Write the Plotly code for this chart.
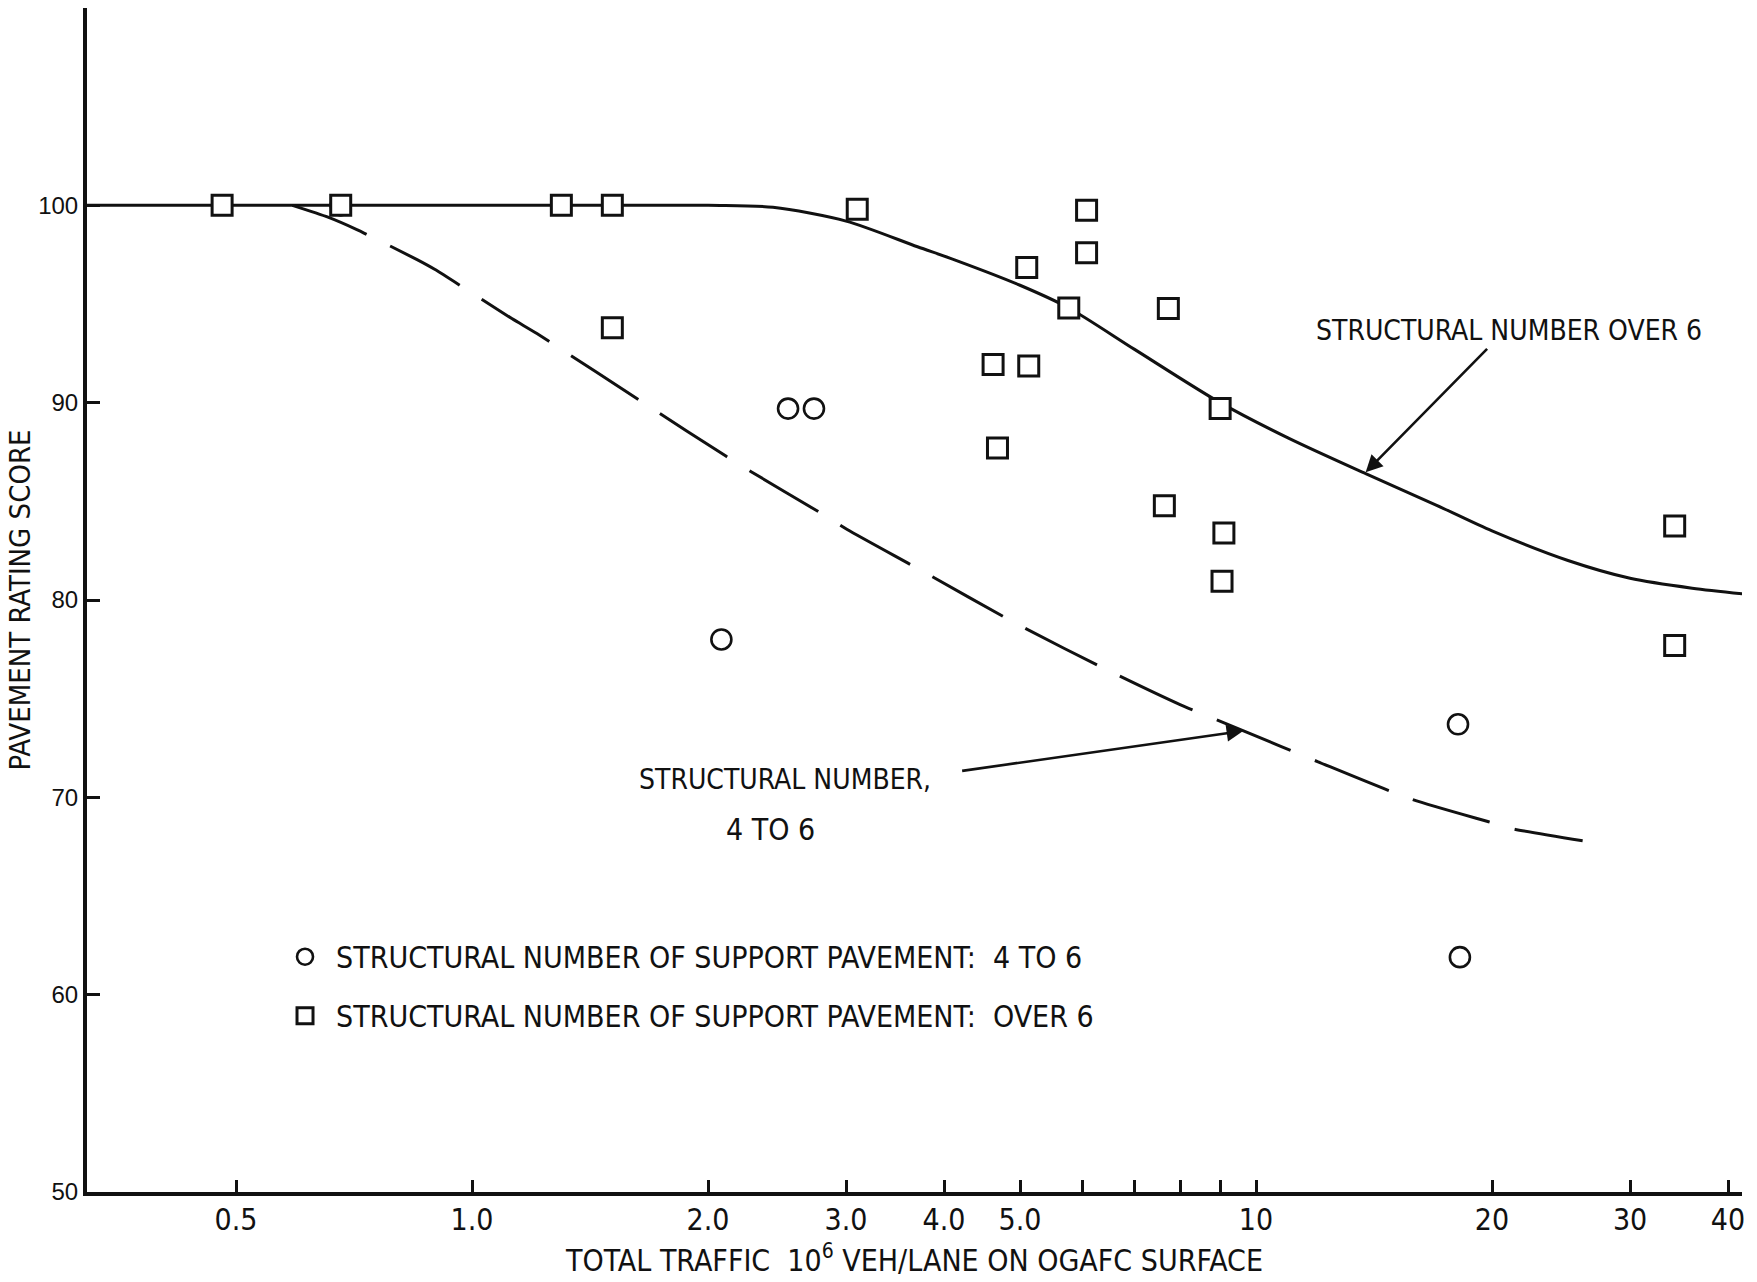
import math
import plotly.graph_objects as go

# ---------------- data ----------------
# squares: structural number of support pavement over 6
sq_x = [0.48, 0.68, 1.30, 1.51, 1.51, 3.10, 6.08, 6.08, 5.10, 5.77,
        7.73, 4.62, 5.13, 9.00, 4.68, 7.64, 9.10, 9.05, 34.2, 34.2]
sq_y = [100, 100, 100, 100, 93.8, 99.8, 99.75, 97.6, 96.85, 94.8,
        94.77, 91.93, 91.86, 89.7, 87.7, 84.77, 83.4, 80.95, 83.75, 77.7]

# circles: structural number of support pavement 4 to 6
ci_x = [0.68, 2.53, 2.73, 2.08, 18.1, 18.2]
ci_y = [100, 89.7, 89.7, 78.0, 73.7, 61.9]

# solid curve: structural number over 6
over6_x = [0.30, 2.0, 2.42, 3.0, 3.7, 4.15, 5.0, 5.77, 7.0, 9.0,
           11.0, 13.8, 17.0, 20.0, 25.0, 30.0, 36.0, 42.1]
over6_y = [100, 100, 99.9, 99.2, 97.9, 97.2, 95.95, 94.8, 92.7, 90.0,
           88.2, 86.4, 84.8, 83.5, 82.0, 81.1, 80.6, 80.3]

# dashed curve: structural number 4 to 6
sn46_x = [0.59, 0.655, 0.713, 0.851, 0.896, 1.124, 1.21, 1.69, 2.11, 2.27,
          2.80, 3.01, 3.70, 5.0, 6.5, 8.0, 9.64, 12.0, 15.8, 19.8, 21.3, 26.1]
sn46_y = [100, 99.4, 98.77, 97.25, 96.76, 94.26, 93.5, 89.75, 87.28, 86.5,
          84.35, 83.57, 81.6, 78.7, 76.4, 74.7, 73.37, 71.8, 69.9, 68.76, 68.4, 67.8]

x_ticks = [0.5, 1, 2, 3, 4, 5, 6, 7, 8, 9, 10, 20, 30, 40]
x_tick_text = ["0.5", "1.0", "2.0", "3.0", "4.0", "5.0", "", "", "", "", "10", "20", "30", "40"]
y_ticks = [50, 60, 70, 80, 90, 100]

NARROW = "Liberation Sans Narrow, Arial Narrow, DejaVu Sans Condensed, sans-serif"
SANS = "Liberation Sans, Arial, sans-serif"
INK = "#111111"

fig = go.Figure()

fig.add_trace(go.Scatter(
    x=over6_x, y=over6_y, mode="lines", showlegend=False, hoverinfo="skip",
    line=dict(color=INK, width=3, shape="spline", smoothing=0.8)))
fig.add_trace(go.Scatter(
    x=sn46_x, y=sn46_y, mode="lines", showlegend=False, hoverinfo="skip",
    line=dict(color=INK, width=3, dash="80px,26px", shape="spline", smoothing=0.6)))

fig.add_trace(go.Scatter(
    x=ci_x, y=ci_y, mode="markers", legendgroup="a",
    name="STRUCTURAL NUMBER OF SUPPORT PAVEMENT:\u00a0 4 TO 6",
    marker=dict(symbol="circle", size=20, color="white", line=dict(color=INK, width=2.6))))
fig.add_trace(go.Scatter(
    x=sq_x, y=sq_y, mode="markers", legendgroup="b",
    name="STRUCTURAL NUMBER OF SUPPORT PAVEMENT:\u00a0 OVER 6",
    marker=dict(symbol="square", size=20, color="white", line=dict(color=INK, width=3))))

L = math.log10
annotations = [
    dict(x=L(21.0), y=93.67, xref="x", yref="y", text="STRUCTURAL NUMBER OVER 6",
         showarrow=False, xanchor="center", yanchor="middle",
         font=dict(family=NARROW, size=28, color=INK)),
    dict(x=L(13.8), y=86.47, xref="x", yref="y", ax=L(19.8), ay=92.8,
         axref="x", ayref="y", text="", showarrow=True, arrowhead=2,
         arrowsize=1.3, arrowwidth=2.6, arrowcolor=INK, standoff=0),
    dict(x=L(2.51), y=70.92, xref="x", yref="y", text="STRUCTURAL NUMBER,",
         showarrow=False, xanchor="center", yanchor="middle",
         font=dict(family=NARROW, size=28, color=INK)),
    dict(x=L(2.40), y=68.39, xref="x", yref="y", text="4 TO 6",
         showarrow=False, xanchor="center", yanchor="middle",
         font=dict(family=NARROW, size=30, color=INK)),
    dict(x=L(9.64), y=73.37, xref="x", yref="y", ax=L(4.2), ay=71.33,
         axref="x", ayref="y", text="", showarrow=True, arrowhead=2,
         arrowsize=1.3, arrowwidth=2.6, arrowcolor=INK, standoff=0),
]

fig.update_layout(
    width=1757, height=1282,
    margin=dict(l=87, r=15, t=8, b=90),
    paper_bgcolor="white", plot_bgcolor="white",
    annotations=annotations,
    showlegend=True,
    legend=dict(x=0.1130, y=0.2207, xanchor="left", yanchor="top",
                bgcolor="rgba(0,0,0,0)", borderwidth=0,
                font=dict(family=NARROW, size=30, color=INK),
                itemwidth=52, traceorder="grouped", tracegroupgap=17),
    xaxis=dict(type="log", range=[-0.4911, 1.6199], automargin=False,
               showline=True, linewidth=4, linecolor=INK,
               showgrid=False, zeroline=False,
               ticks="inside", ticklen=12, tickwidth=2.5, tickcolor=INK,
               tickvals=x_ticks, ticktext=x_tick_text,
               tickfont=dict(family=NARROW, size=30, color=INK),
               ticklabelstandoff=-2,
               title=dict(text="TOTAL TRAFFIC\u00a0 10<sup>6</sup> VEH/LANE ON OGAFC SURFACE",
                          font=dict(family=NARROW, size=30, color=INK), standoff=15)),
    yaxis=dict(range=[50, 110], automargin=False,
               showline=True, linewidth=4, linecolor=INK,
               showgrid=False, zeroline=False,
               ticks="inside", ticklen=13, tickwidth=2.5, tickcolor=INK,
               tickvals=y_ticks,
               tickfont=dict(family=SANS, size=24, color=INK),
               title=dict(text="PAVEMENT RATING SCORE",
                          font=dict(family=NARROW, size=29, color=INK), standoff=0)),
)

fig.write_html("out.html")
